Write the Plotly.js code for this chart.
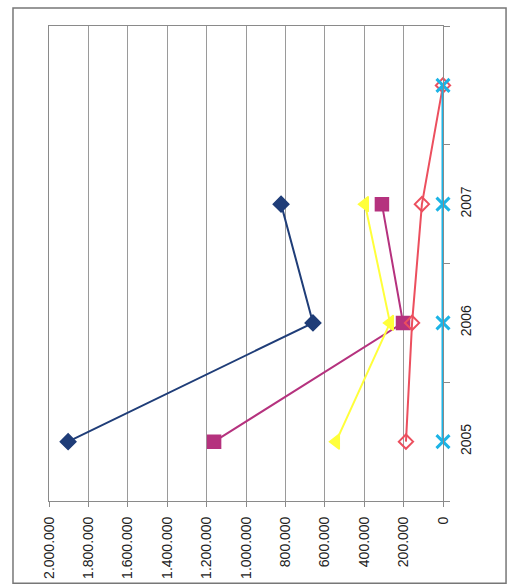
<!DOCTYPE html>
<html>
<head>
<meta charset="utf-8">
<script src="https://cdn.plot.ly/plotly-3.0.1.min.js"></script>
<style>html,body{margin:0;padding:0;background:#fff;}#chart{width:509px;height:586px;}</style>
</head>
<body>
<div id="chart"></div>
<script>
// Categories (vertical axis) and their labels
var years = ['2005', '2006', '2007', '2008'];
var yearLabels = ['2005', '2006', '2007', ''];

// Series values
var seriesA = [1903000, 660000, 822000, null];   // dark blue diamonds
var seriesB = [1162000, 203000, 310000, null];   // magenta squares
var seriesC = [543000, 269000, 396000, null];    // yellow triangles
var seriesD = [188000, 157000, 107000, 0];       // red open diamonds
var seriesE = [0, 0, 0, 0];                      // cyan crosses

// Value axis ticks
var valueTicks = [0, 200000, 400000, 600000, 800000, 1000000, 1200000, 1400000, 1600000, 1800000, 2000000];
var valueTickText = ['0', '200.000', '400.000', '600.000', '800.000', '1.000.000', '1.200.000', '1.400.000', '1.600.000', '1.800.000', '2.000.000'];

function tr(vals, color, symbol, size, lw, mlw) {
  return {
    x: vals, y: years, type: 'scatter', mode: 'lines+markers',
    cliponaxis: false,
    line: {color: color, width: lw || 2},
    marker: {color: color, symbol: symbol, size: size, line: {color: color, width: mlw || 1.5}},
    hoverinfo: 'x+y', showlegend: false
  };
}

var data = [
  tr(seriesA, '#1F3D78', 'diamond', 12),
  tr(seriesB, '#B5327E', 'square', 13),
  tr(seriesC, '#FFFF3A', 'triangle-left', 13),
  tr(seriesD, '#EC4F5E', 'diamond-open', 11, 2, 2),
  tr(seriesE, '#1CB4E6', 'x-thin-open', 13, 3, 3)
];

var layout = {
  width: 509, height: 586,
  margin: {l: 49, r: 66, t: 26, b: 85, pad: 0},
  paper_bgcolor: '#ffffff', plot_bgcolor: '#ffffff',
  font: {family: 'Liberation Sans, Arial, sans-serif', size: 14, color: '#222'},
  xaxis: {
    range: [2000000, 0],
    tickvals: valueTicks, ticktext: valueTickText,
    tickangle: -90,
    showgrid: true, gridcolor: '#9a9a9a', gridwidth: 1,
    zeroline: false,
    showline: true, linecolor: '#8a8a8a', linewidth: 1, mirror: true,
    ticks: 'outside', ticklen: 5, tickcolor: '#8a8a8a',
    ticklabelstandoff: 4,
    tickfont: {size: 14, color: '#222'}
  },
  yaxis: {
    type: 'category', categoryorder: 'array', categoryarray: years,
    tickvals: years, ticktext: yearLabels,
    range: [-0.5, 3.5],
    side: 'right',
    tickangle: -90,
    tickson: 'boundaries',
    showgrid: false, zeroline: false,
    showline: true, linecolor: '#8a8a8a', linewidth: 1, mirror: true,
    ticks: 'outside', ticklen: 6, tickcolor: '#8a8a8a',
    ticklabelstandoff: 10,
    tickfont: {size: 14, color: '#222'}
  },
  shapes: [{
    type: 'rect', xref: 'paper', yref: 'paper',
    x0: -0.0914, x1: 1.160, y0: -0.173, y1: 1.038,
    line: {color: '#777', width: 1.5}, fillcolor: 'rgba(0,0,0,0)', layer: 'below'
  }]
};

Plotly.newPlot('chart', data, layout, {staticPlot: true, displayModeBar: false});
</script>
</body>
</html>
